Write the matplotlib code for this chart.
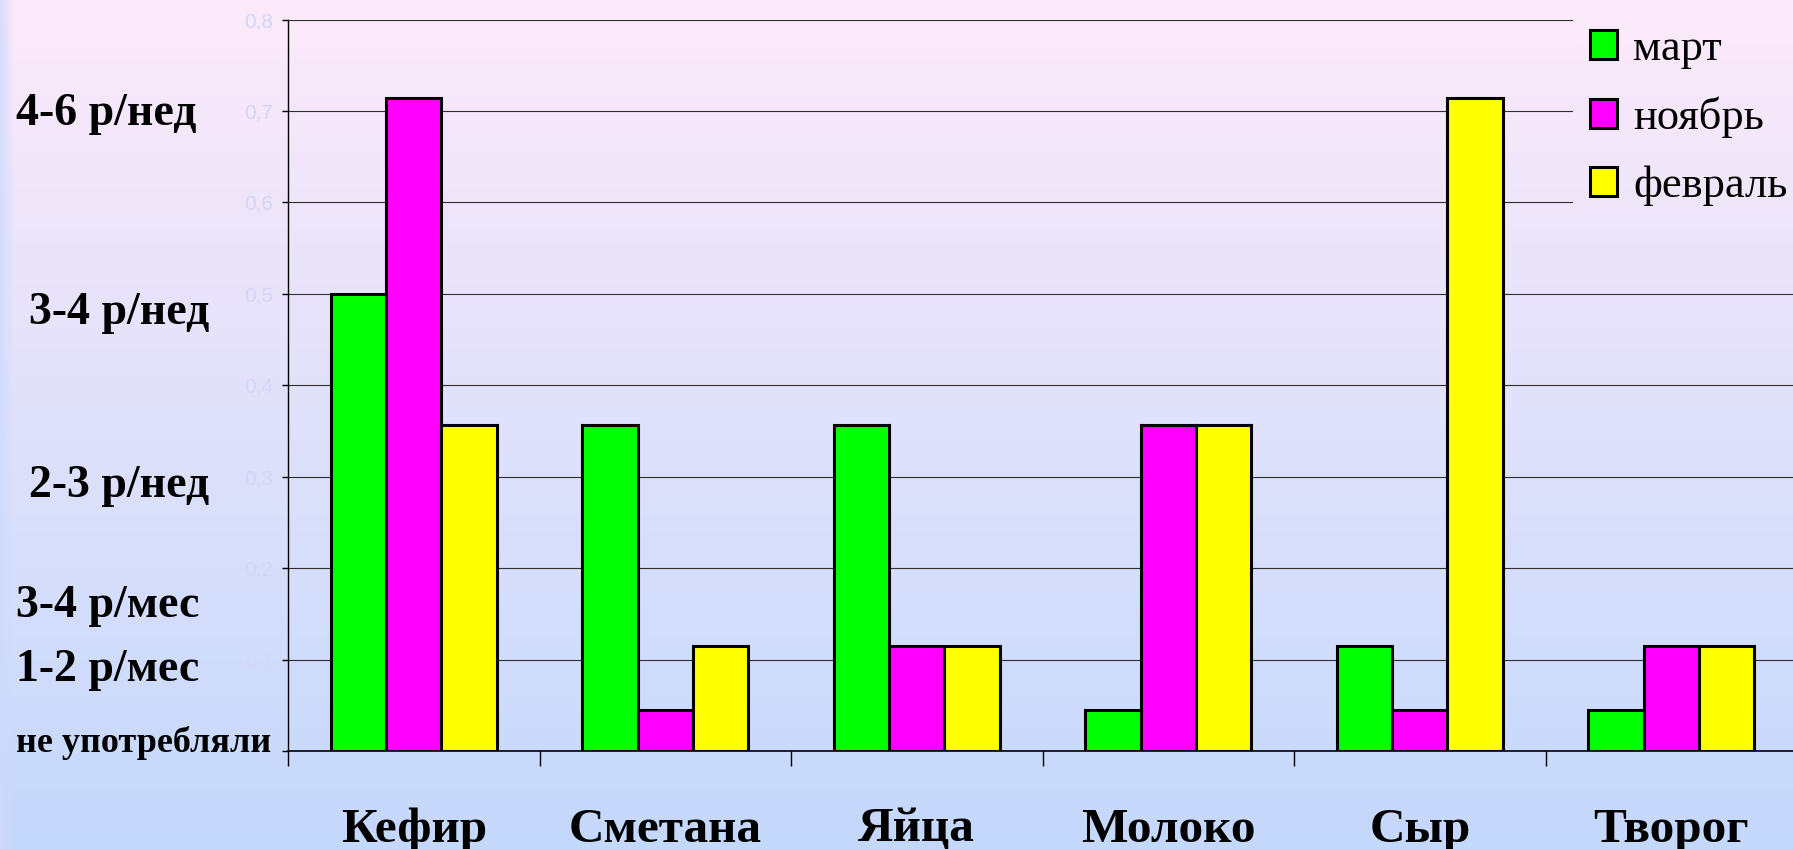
import numpy as np
import matplotlib
matplotlib.use("Agg")
import matplotlib.pyplot as plt
import matplotlib.patches as mpatches
from matplotlib.ticker import MultipleLocator, FuncFormatter

# data
products = ["Кефир", "Сметана", "Яйца", "Молоко", "Сыр", "Творог"]
months = ["март", "ноябрь", "февраль"]
mart = [0.5, 0.357, 0.357, 0.045, 0.115, 0.045]
noyabr = [0.714, 0.045, 0.115, 0.357, 0.045, 0.115]
fevral = [0.357, 0.115, 0.115, 0.357, 0.714, 0.115]
freq_labels = ["4-6 р/нед", "3-4 р/нед", "2-3 р/нед", "3-4 р/мес", "1-2 р/мес", "не употребляли"]

colors = ["#00ff00", "#ff00ff", "#ffff00"]
W, H = 1793, 849

fig = plt.figure(figsize=(W/100, H/100), dpi=100)

# background gradient pink -> light blue, with bluish left edge
top = np.array([252, 234, 249]) / 255
bot = np.array([196, 216, 252]) / 255
t = np.linspace(0, 1, H)[:, None, None]
grad = top * (1 - t) + bot * t
grad = np.repeat(grad, W, axis=1)
edge = np.array([206, 218, 252]) / 255
k = np.clip(1 - np.arange(W) / 14.0, 0, 1)[None, :, None] * 0.8
grad = grad * (1 - k) + edge * k
bg = fig.add_axes([0, 0, 1, 1], zorder=-10)
bg.imshow(grad, aspect="auto", extent=[0, W, H, 0])
bg.axis("off")

ax = fig.add_axes([288/W, 1 - 751/H, (1797-288)/W, (751-19.5)/H])
ax.set_facecolor("none")
x = np.arange(len(products))
bw = 0.22
for i, vals in enumerate([mart, noyabr, fevral]):
    ax.bar(x + (i - 1) * bw, vals, bw, color=colors[i], edgecolor="black",
           linewidth=2.2, zorder=3)

ax.set_xlim(-0.5, len(products) - 0.5)
ax.set_ylim(0, 0.8)
ax.yaxis.set_major_locator(MultipleLocator(0.1))
ax.yaxis.set_major_formatter(FuncFormatter(lambda v, p: ("%.1f" % v).replace(".", ",") if v > 0.001 else "0"))
ax.grid(axis="y", color="#303030", linewidth=0.8, zorder=1)
ax.set_axisbelow(True)
for s in ["top", "right"]:
    ax.spines[s].set_visible(False)
ax.spines["left"].set_linewidth(1.0)
ax.spines["bottom"].set_linewidth(1.2)
ax.tick_params(axis="y", length=4, width=1, pad=7, labelsize=15,
               labelcolor="#d2d6fa")
for lab in ax.get_yticklabels():
    lab.set_fontfamily("Liberation Sans")

ax.set_xticks(x)
ax.set_xticklabels(products, fontfamily="Liberation Serif", fontweight="bold",
                   fontsize=35.5)
ax.set_xticks(np.arange(len(products) + 1) - 0.5, minor=True)
ax.tick_params(axis="x", which="major", length=0, pad=41)
ax.tick_params(axis="x", which="minor", length=11, width=1)

# frequency labels on the left
ys = [114, 313, 486, 606, 670, 743]
xs = [16, 29, 29, 16, 16, 16]
sizes = [33, 33, 33, 33, 33, 26]
for lab, yy, xx, fs in zip(freq_labels, ys, xs, sizes):
    fig.text(xx/W, 1 - yy/H, lab, fontfamily="Liberation Serif", fontweight="bold",
             fontsize=fs, va="center", ha="left")

# patch of background behind the legend (hides the grid lines there)
lx, lh = 1573, 222
cover = fig.add_axes([lx/W, 1 - lh/H, (W - lx)/W, lh/H], zorder=2)
cover.imshow(grad[:lh, lx:], aspect="auto", extent=[0, 1, 0, 1])
cover.axis("off")

handles = [mpatches.Patch(facecolor=c, edgecolor="black", linewidth=2.2) for c in colors]
leg = fig.legend(handles, months, loc="upper left", bbox_to_anchor=(1573/W, 1 - 12/H),
                 prop={"family": "Liberation Serif", "size": 32},
                 frameon=False, borderpad=0.38, borderaxespad=0,
                 handlelength=0.62, handleheight=0.62, handletextpad=0.35,
                 labelspacing=0.62)
leg.set_zorder(10)

fig.savefig("out.png", dpi=100)
